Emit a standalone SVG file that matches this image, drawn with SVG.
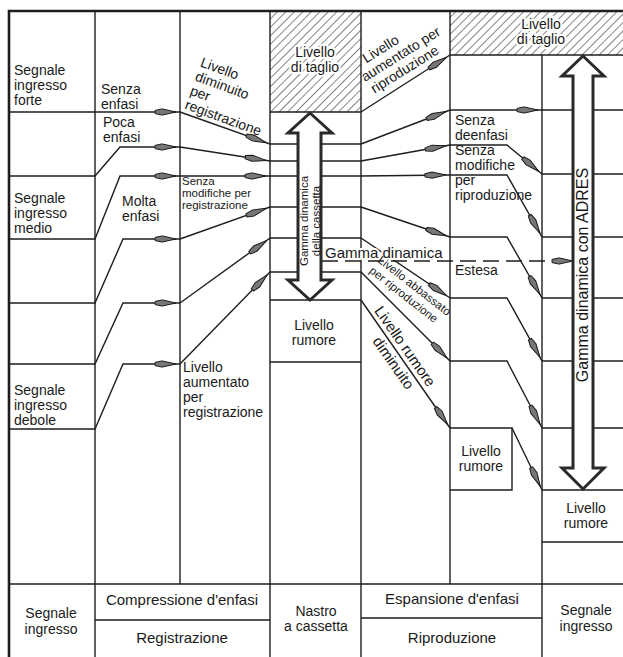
<svg xmlns="http://www.w3.org/2000/svg" width="623" height="657" viewBox="0 0 623 657">
<style>
.t{font-family:"Liberation Sans",Arial,sans-serif;font-size:14px;fill:#1a1a1a}
.L{font-size:15px}
.s{font-size:11.5px}
.m{text-anchor:middle}
.g{stroke:#1e1e1e;stroke-width:1.4;fill:none}
.b{stroke:#1e1e1e;stroke-width:2.6;fill:none}
.c{stroke:#1e1e1e;stroke-width:1.4;fill:none;marker-end:url(#ah)}
.da{stroke-dasharray:16 7;marker-end:url(#ah0)}
.arr{fill:#fff;stroke:#2a2a2a;stroke-width:3;stroke-linejoin:miter}
.halo{paint-order:stroke;stroke:#fff;stroke-width:4;stroke-linejoin:round}
.hat{fill:url(#hatch);stroke:none}
</style>
<defs>
<pattern id="hatch" width="6" height="6" patternUnits="userSpaceOnUse" patternTransform="rotate(45)">
<rect width="6" height="6" fill="#fff"/>
<line x1="0" y1="0" x2="0" y2="6" stroke="#333" stroke-width="1.2"/>
</pattern>
<marker id="ah" markerUnits="userSpaceOnUse" markerWidth="21" markerHeight="8" viewBox="0 -4 21 8" refX="25" refY="0" orient="auto" overflow="visible">
<path d="M0,-1.6 L7,-3.1 L21,0 L7,3.1 L0,1.6 Z" fill="#777" stroke="#1a1a1a" stroke-width="1"/>
</marker>
<marker id="ah0" markerUnits="userSpaceOnUse" markerWidth="21" markerHeight="8" viewBox="0 -4 21 8" refX="21" refY="0" orient="auto" overflow="visible">
<path d="M0,-1.6 L7,-3.1 L21,0 L7,3.1 L0,1.6 Z" fill="#777" stroke="#1a1a1a" stroke-width="1"/>
</marker>
</defs>
<rect width="623" height="657" fill="#fff"/>

<g id="grid">
<rect class="hat" x="270" y="11" width="91" height="101"/>
<rect class="hat" x="450" y="11" width="173" height="44"/>
<path class="g" d="M95,11V657M180,11V584M270,11V657M361,11V657M450,11V584M542,55V657"/>
<path class="g" d="M9,584H623M95,620H270M361,618H542"/>
<path class="g" d="M270,112H361M270,144H361M270,161H361M270,176H361M270,207H361M270,238H361M270,272H361M270,300H361M270,362H361"/>
<path class="g" d="M450,55H623M542,110H623M542,174H623M542,237H623M542,298H623M542,361H623M542,428H623M542,490H623M542,542H623"/>
<path class="g" d="M450,428H512V490H450"/>
<path class="b" d="M9,657V11H623"/>
</g>

<g id="connectors">
<path class="c" d="M9,112H180"/>
<path class="c" d="M9,176H95L120,147H180"/>
<path class="c" d="M9,239H95L120,176H180"/>
<path class="c" d="M9,303H95L123,239H180"/>
<path class="c" d="M9,364H95L123,303H180"/>
<path class="c" d="M9,429H95L123,364H180"/>
<path class="c" d="M180,112L270,144"/>
<path class="c" d="M180,147L270,161"/>
<path class="c" d="M180,176H270"/>
<path class="c" d="M180,239L270,207"/>
<path class="c" d="M180,303L270,238"/>
<path class="c" d="M180,364L270,272"/>
<path class="c" d="M361,112L450,55"/>
<path class="c" d="M361,144L450,110"/>
<path class="c" d="M361,161L450,145"/>
<path class="c" d="M361,176L450,175"/>
<path class="c" d="M361,207L450,237"/>
<path class="c" d="M361,238L450,298"/>
<path class="c" d="M361,272L450,361"/>
<path class="c" d="M361,300L450,428"/>
<path class="c" d="M450,110H542"/>
<path class="c" d="M450,145H507L542,174"/>
<path class="c" d="M450,175H507L542,237"/>
<path class="c" d="M450,237H507L542,298"/>
<path class="c" d="M450,298H507L542,361"/>
<path class="c" d="M450,361H507L542,428"/>
<path class="c" d="M512,428L542,490"/>
<path class="c da" d="M322,261H573"/>
</g>

<g id="n-forte"><text class="t" x="14" y="75">Segnale<tspan x="14" y="90">ingresso</tspan><tspan x="14" y="105">forte</tspan></text></g>
<g id="n-medio"><text class="t" x="14" y="203">Segnale<tspan x="14" y="218">ingresso</tspan><tspan x="14" y="233">medio</tspan></text></g>
<g id="n-debole"><text class="t" x="14" y="395">Segnale<tspan x="14" y="410">ingresso</tspan><tspan x="14" y="425">debole</tspan></text></g>

<g id="n-senza-enfasi"><text class="t" x="101" y="94">Senza<tspan x="101" y="109">enfasi</tspan></text></g>
<g id="n-poca-enfasi"><text class="t" x="103" y="127">Poca<tspan x="103" y="142">enfasi</tspan></text></g>
<g id="n-molta-enfasi"><text class="t" x="122" y="206">Molta<tspan x="122" y="221">enfasi</tspan></text></g>

<g id="n-diminuito"><text class="t" transform="rotate(20)"><tspan x="210" y="-6">Livello</tspan><tspan x="210" y="9">diminuito</tspan><tspan x="210" y="24">per</tspan><tspan x="210" y="39">registrazione</tspan></text></g>
<g id="n-senza-mod-reg"><text class="t s" x="182" y="185">Senza<tspan x="182" y="197">modifiche per</tspan><tspan x="182" y="209">registrazione</tspan></text></g>
<g id="n-aumentato-reg"><text class="t" x="183" y="372">Livello<tspan x="183" y="387">aumentato</tspan><tspan x="183" y="402">per</tspan><tspan x="183" y="417">registrazione</tspan></text></g>

<g id="n-taglio-cassetta"><text class="t m halo" x="315" y="57">Livello<tspan x="315" y="72">di taglio</tspan></text></g>
<g id="n-gamma-cassetta">
<path class="arr" d="M310,113L332,133L321,133L321,280L332,280L310,300L288,280L298,280L298,133L288,133Z"/>
<text class="t s m" transform="translate(307.5,221) rotate(-90)"><tspan x="0" y="0">Gamma dinamica</tspan><tspan x="0" y="12">della cassetta</tspan></text>
</g>
<g id="n-rumore-cassetta"><text class="t m" x="314" y="330">Livello<tspan x="314" y="345">rumore</tspan></text></g>
<g id="n-gamma"><text class="t L halo" x="325" y="258">Gamma dinamica</text></g>

<g id="n-aumentato-rip"><text class="t" transform="rotate(-32)"><tspan x="277" y="248">Livello</tspan><tspan x="266" y="263">aumentato per</tspan><tspan x="268" y="278">riproduzione</tspan></text></g>
<g id="n-abbassato"><text class="t s" transform="rotate(38)"><tspan x="458" y="-26">Livello abbassato</tspan><tspan x="458" y="-12.5">per riproduzione</tspan></text></g>
<g id="n-rumore-dim"><text class="t L" transform="rotate(55)"><tspan x="469" y="-128">Livello rumore</tspan><tspan x="493" y="-109">diminuito</tspan></text></g>

<g id="n-senza-deenfasi"><text class="t" x="455" y="125">Senza<tspan x="455" y="140">deenfasi</tspan></text></g>
<g id="n-senza-mod-rip"><text class="t" x="455" y="155">Senza<tspan x="455" y="170">modifiche</tspan><tspan x="455" y="185">per</tspan><tspan x="455" y="200">riproduzione</tspan></text></g>
<g id="n-estesa"><text class="t" x="455" y="275">Estesa</text></g>
<g id="n-rumore-rip"><text class="t m" x="481" y="456">Livello<tspan x="481" y="471">rumore</tspan></text></g>

<g id="n-taglio-adres"><text class="t m halo" x="541" y="29">Livello<tspan x="541" y="44">di taglio</tspan></text></g>
<g id="n-adres">
<path class="arr" d="M583,56L604,76L593,76L593,468L604,468L583,489L562,468L573,468L573,76L562,76Z"/>
<text class="t m" style="font-size:16px" transform="translate(588,275) rotate(-90)">Gamma dinamica con ADRES</text>
</g>
<g id="n-rumore-out"><text class="t m" x="586" y="513">Livello<tspan x="586" y="528">rumore</tspan></text></g>

<g id="n-segnale-in"><text class="t m" x="51" y="618">Segnale<tspan x="51" y="634">ingresso</tspan></text></g>
<g id="n-compressione"><text class="t L m" x="182" y="605">Compressione d'enfasi</text></g>
<g id="n-registrazione"><text class="t L m" x="182" y="643">Registrazione</text></g>
<g id="n-nastro"><text class="t m" x="316" y="616">Nastro<tspan x="316" y="631">a cassetta</tspan></text></g>
<g id="n-espansione"><text class="t L m" x="452" y="604">Espansione d'enfasi</text></g>
<g id="n-riproduzione"><text class="t L m" x="452" y="643">Riproduzione</text></g>
<g id="n-segnale-out"><text class="t m" x="586" y="615">Segnale<tspan x="586" y="631">ingresso</tspan></text></g>
</svg>
